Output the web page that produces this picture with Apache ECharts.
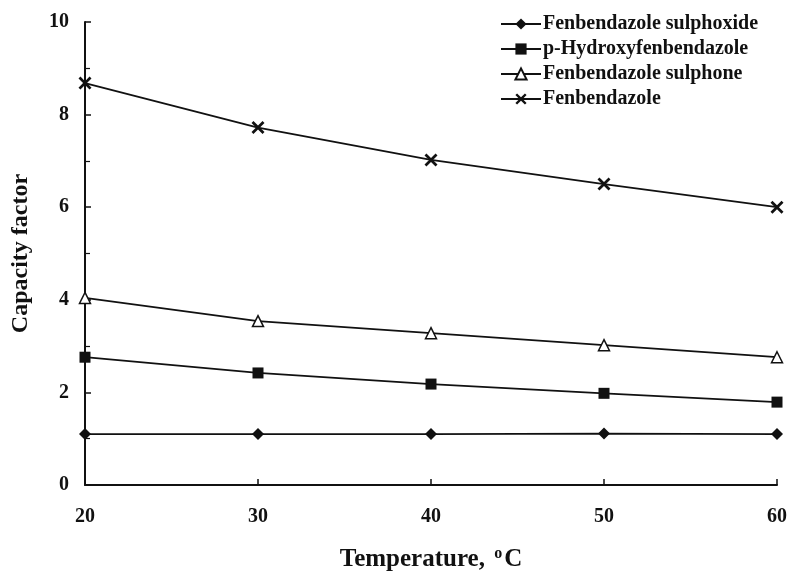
<!DOCTYPE html>
<html><head><meta charset="utf-8">
<script src="https://cdn.jsdelivr.net/npm/echarts@6/dist/echarts.min.js"></script>
<style>html,body{margin:0;padding:0;background:#fff}#c{width:791px;height:573px}</style>
</head><body><div id="c"></div>
<script>
const temperatures = [20, 30, 40, 50, 60];
const sulphoxide = [1.10, 1.10, 1.10, 1.11, 1.10];
const hydroxy = [2.76, 2.42, 2.18, 1.98, 1.79];
const sulphone = [4.04, 3.54, 3.28, 3.02, 2.76];
const fenbendazole = [8.68, 7.72, 7.02, 6.50, 6.00];
const seriesNames = ['Fenbendazole sulphoxide', 'p-Hydroxyfenbendazole', 'Fenbendazole sulphone', 'Fenbendazole'];
const yTicks = [0, 2, 4, 6, 8, 10];
const xTicks = [20, 30, 40, 50, 60];

const crossPath = 'path://M0,1.5L1.5,0L5,3.5L8.5,0L10,1.5L6.5,5L10,8.5L8.5,10L5,6.5L1.5,10L0,8.5L3.5,5Z';
const font = '"Liberation Serif", "DejaVu Serif", serif';
function pairs(vals){ return temperatures.map((t,i)=>[t, vals[i]]); }

const chart = echarts.init(document.getElementById('c'));
const mk = (name, vals, symbol, size, fill) => ({
  name, type: 'line', data: pairs(vals), symbol, symbolSize: size,
  lineStyle: {color: '#111', width: 1.8},
  itemStyle: {color: fill, borderColor: '#111', borderWidth: fill === '#fff' ? 1.5 : 0},
  emphasis: {disabled: true}, animation: false
});
chart.setOption({
  animation: false,
  backgroundColor: '#fff',
  textStyle: {fontFamily: font, color: '#111'},
  grid: {left: 85, right: 14, top: 22, bottom: 88, containLabel: false, outerBoundsMode: 'none'},
  legend: {
    orient: 'vertical', left: 495, top: 9, itemGap: 5, itemWidth: 40, itemHeight: 14,
    data: seriesNames,
    textStyle: {fontFamily: font, fontSize: 20, fontWeight: 'bold', color: '#111', padding: [0,0,0,-3]}
  },
  xAxis: {
    type: 'value', min: 20, max: 60, interval: 10,
    name: 'Temperature, {sup|o}C', nameLocation: 'middle', nameGap: 61,
    nameTextStyle: {fontFamily: font, fontSize: 25, fontWeight: 'bold', color: '#111',
      rich: {sup: {fontFamily: font, fontSize: 16, fontWeight: 'bold', verticalAlign: 'top', padding: [0,2,12,3]}}},
    axisLine: {show: true, lineStyle: {color: '#111', width: 2}},
    axisTick: {show: true, inside: true, length: 6, lineStyle: {color: '#111', width: 1.5}},
    axisLabel: {fontFamily: font, fontSize: 20, fontWeight: 'bold', color: '#111', margin: 22,
      formatter: v => xTicks.includes(v) ? String(v) : ''},
    splitLine: {show: false}
  },
  yAxis: {
    type: 'value', min: 0, max: 10, interval: 2,
    name: 'Capacity factor', nameLocation: 'middle', nameGap: 52,
    nameTextStyle: {fontFamily: font, fontSize: 24, fontWeight: 'bold', color: '#111'},
    axisLine: {show: true, lineStyle: {color: '#111', width: 2}},
    axisTick: {show: true, inside: true, length: 6, lineStyle: {color: '#111', width: 1.5}},
    minorTick: {show: true, splitNumber: 2, length: 5, lineStyle: {color: '#111', width: 1.2}},
    axisLabel: {fontFamily: font, fontSize: 20, fontWeight: 'bold', color: '#111', margin: 16,
      formatter: v => yTicks.includes(v) ? String(v) : ''},
    splitLine: {show: false}
  },
  series: [
    mk(seriesNames[0], sulphoxide, 'diamond', 12, '#111'),
    mk(seriesNames[1], hydroxy, 'rect', 11, '#111'),
    mk(seriesNames[2], sulphone, 'triangle', 11, '#fff'),
    mk(seriesNames[3], fenbendazole, crossPath, 13, '#111')
  ]
});
</script></body></html>
